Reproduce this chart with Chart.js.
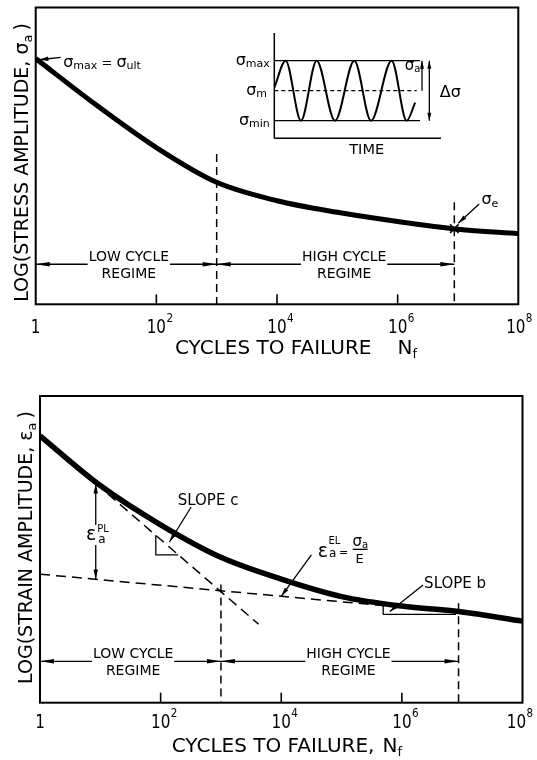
<!DOCTYPE html>
<html lang="en">
<head>
<meta charset="utf-8">
<title>Fatigue life: stress-life and strain-life curves</title>
<script src="https://cdn.jsdelivr.net/npm/chart.js@4.4.1/dist/chart.umd.min.js"></script>
<style>
  html, body { margin: 0; padding: 0; background: #fff; }
  #page { position: relative; width: 537px; height: 760px; overflow: hidden; background: #fff; }
  #page canvas { position: absolute; }
</style>
</head>
<body>
<div id="page">
  <canvas id="stressLife" width="537" height="370" style="left:0;top:0"></canvas>
  <canvas id="strainLife" width="537" height="380" style="left:0;top:380px"></canvas>
  <canvas id="cycleInset" width="280" height="150" style="left:200px;top:20px"></canvas>
</div>
<script>
// ---- data (x: cycles to failure, y: log amplitude in arbitrary units 0..100) ----
const N_DECADES = [1, 1e1, 1e2, 1e3, 1e4, 1e5, 1e6, 1e7, 1e8];
const STRESS_AMPLITUDE = [82.8, 67.2, 52.8, 41.1, 34.9, 31.0, 27.9, 25.3, 23.8];
const STRAIN_AMPLITUDE = [87.0, 70.8, 58.0, 47.4, 40.3, 34.6, 31.5, 29.6, 26.6];
const ELASTIC_N = [1, 1e7];
const ELASTIC_STRAIN = [41.9, 29.3];
const PLASTIC_N = [8.4, 4200];
const PLASTIC_STRAIN = [71.5, 25.6];
const REGIME_LIMITS = [1, 1e3, 8.7e6];
const REGIME_LABELS = [['LOW CYCLE', 'REGIME'], ['HIGH CYCLE', 'REGIME']];
const REGIME_LABEL_N = [35, 1.3e5];
const REGIME_ARROW_LEVEL = 13.5;
const STRESS_BOUNDARY_TOP = [50.6, 34.4];
const STRAIN_BOUNDARY_TOP = [38.5, 32.4];
const ENDURANCE_N = [8.7e6];
const ENDURANCE_STRESS = [25.5];
const SLOPE_C_N = [83.2, 83.2, 195];
const SLOPE_C_STRAIN = [54.5, 48.2, 48.2];
const SLOPE_B_N = [4.9e5, 4.9e5, 7.9e6];
const SLOPE_B_STRAIN = [31.6, 28.8, 28.8];
const PLASTIC_RANGE_N = 8.4;
const PLASTIC_RANGE = [71.5, 40.2];
const TICK_VALUES = [1, 1e2, 1e4, 1e6, 1e8];
const TICK_BASES = ['1', '10', '10', '10', '10'];
const TICK_POWERS = ['', '2', '4', '6', '8'];

// constant-amplitude loading history (inset)
const WAVE_TIME = [0, 6.8, 16, 25.4, 36.4, 48, 58, 70.4, 79.4, 84.5];
const WAVE_STRESS = [0.1, 1, -1, 1, -1, 1, -1, 1, -1, -0.4];
const LEVEL_NAMES = ['max', 'm', 'min'];
const LEVEL_STRESS = [1, 0, -1];
const LEVEL_END_TIME = [87.4, 85.4, 87.4];

// ---- drawing helpers ----
const FAMILY = '"DejaVu Sans", "Liberation Sans", Arial, sans-serif';
const INK = '#000';
const font = s => `${s}px ${FAMILY}`;
const pts = (xs, ys) => xs.map((x, i) => ({ x, y: ys[i] }));

function seg(ctx, x1, y1, x2, y2, w) {
  ctx.lineWidth = w || 1.3;
  ctx.beginPath(); ctx.moveTo(x1, y1); ctx.lineTo(x2, y2); ctx.stroke();
}
function head(ctx, fx, fy, tx, ty, len, hw) {
  const a = Math.atan2(ty - fy, tx - fx), c = Math.cos(a), s = Math.sin(a);
  const bx = tx - len * c, by = ty - len * s;
  ctx.beginPath();
  ctx.moveTo(tx, ty);
  ctx.lineTo(bx + hw * s, by - hw * c);
  ctx.lineTo(bx - hw * s, by + hw * c);
  ctx.closePath(); ctx.fill();
}
function arrow(ctx, x1, y1, x2, y2, len = 9, hw = 2.2, both = false) {
  seg(ctx, x1, y1, x2, y2, 1.3);
  head(ctx, x1, y1, x2, y2, len, hw);
  if (both) head(ctx, x2, y2, x1, y1, len, hw);
}
// text made of runs with their own size / baseline shift
function drawRich(ctx, parts, x, y, align) {
  let w = 0;
  parts.forEach(p => { ctx.font = font(p.s); w += (p.pre || 0) + ctx.measureText(p.t).width; });
  let cx = align === 'center' ? x - w / 2 : align === 'right' ? x - w : x;
  ctx.textAlign = 'left'; ctx.textBaseline = 'alphabetic';
  parts.forEach(p => {
    ctx.font = font(p.s);
    cx += (p.pre || 0);
    ctx.fillText(p.t, cx, y + (p.dy || 0));
    cx += ctx.measureText(p.t).width;
  });
  return w;
}
// frame, inward ticks and "10^n" labels; the last label is nudged inside the page
function frameAndTicks(ctx, a, xs, labelBaseline, lastShift) {
  ctx.lineWidth = 2;
  ctx.strokeRect(a.left, a.top, a.right - a.left, a.bottom - a.top);
  TICK_VALUES.forEach((v, i) => {
    const px = xs.getPixelForValue(v);
    const last = i === TICK_VALUES.length - 1;
    if (i > 0 && !last) seg(ctx, px, a.bottom, px, a.bottom - 10, 1.6);
    ctx.save();
    ctx.translate(px + (last ? lastShift : 0), labelBaseline);
    ctx.scale(0.8, 1);
    ctx.font = font(19); ctx.textAlign = 'center'; ctx.textBaseline = 'alphabetic';
    ctx.fillText(TICK_BASES[i], 0, 0);
    if (TICK_POWERS[i]) {
      const w = ctx.measureText(TICK_BASES[i]).width;
      ctx.font = font(13); ctx.textAlign = 'left';
      ctx.fillText(TICK_POWERS[i], w / 2 + 0.5, -11);
    }
    ctx.restore();
  });
}
function regimeArrows(ctx, xs, ys) {
  const y = ys.getPixelForValue(REGIME_ARROW_LEVEL);
  REGIME_LABELS.forEach((lines, i) => {
    const x0 = xs.getPixelForValue(REGIME_LIMITS[i]);
    const x1 = xs.getPixelForValue(REGIME_LIMITS[i + 1]);
    const cx = xs.getPixelForValue(REGIME_LABEL_N[i]);
    ctx.font = font(14);
    const w = Math.max(...lines.map(l => ctx.measureText(l).width));
    seg(ctx, x0, y, cx - w / 2 - 1, y, 1.3);
    seg(ctx, cx + w / 2 + 1, y, x1, y, 1.3);
    head(ctx, x0 + 14, y, x0, y, 14, 2.3);
    head(ctx, x1 - 14, y, x1, y, 14, 2.3);
    ctx.textAlign = 'center'; ctx.textBaseline = 'alphabetic';
    ctx.fillText(lines[0], cx, y - 3);
    ctx.fillText(lines[1], cx, y + 13.5);
  });
}
function yTitle(ctx, cx, cy, parts) {
  ctx.save();
  ctx.translate(cx, cy);
  ctx.rotate(-Math.PI / 2);
  drawRich(ctx, parts, 0, 0.365 * 19, 'center');
  ctx.restore();
}
function chartOptions(padding, xType, xMin, xMax, yMin, yMax) {
  return {
    responsive: false, animation: false, devicePixelRatio: 1, events: [],
    layout: { padding },
    plugins: { legend: { display: false }, tooltip: { enabled: false } },
    elements: { point: { radius: 0 }, line: { borderColor: INK, borderCapStyle: 'butt', borderJoinStyle: 'round' } },
    scales: {
      x: { type: xType, min: xMin, max: xMax, display: false },
      y: { type: 'linear', min: yMin, max: yMax, display: false }
    }
  };
}
const dashed = (data, dash) => ({ data, borderColor: INK, borderWidth: 1.5, borderDash: dash, pointRadius: 0, tension: 0 });

// ---- stress-life (S-N) chart ----
const stressDecor = {
  id: 'stressDecor',
  afterDatasetsDraw(chart) {
    const { ctx, chartArea: a, scales: { x: xs, y: ys } } = chart;
    const P = (n, v) => [xs.getPixelForValue(n), ys.getPixelForValue(v)];
    ctx.save();
    ctx.strokeStyle = INK; ctx.fillStyle = INK;
    frameAndTicks(ctx, a, xs, a.bottom + 28.5, -2.5);
    regimeArrows(ctx, xs, ys);

    drawRich(ctx, [{ t: 'CYCLES TO FAILURE', s: 20 }, { t: 'N', s: 20, pre: 26 }, { t: 'f', s: 13, dy: 4 }], 175, 354.3, 'left');
    yTitle(ctx, 21, 162.5, [{ t: 'LOG(STRESS AMPLITUDE, σ', s: 19 }, { t: 'a', s: 13, dy: 4 }, { t: ')', s: 19, pre: 4 }]);

    // ultimate strength at a single cycle
    const [u1x, u1y] = P(2.6, 83.2), [u2x, u2y] = P(1.15, 82.4);
    arrow(ctx, u1x, u1y, u2x, u2y, 9, 2.2);
    const [ux, uy] = P(2.85, 80.1);
    drawRich(ctx, [{ t: 'σ', s: 16 }, { t: 'max', s: 11, dy: 2 }, { t: ' = ', s: 13 }, { t: 'σ', s: 16 }, { t: 'ult', s: 11, dy: 2 }], ux, uy, 'left');

    // endurance limit
    const [e1x, e1y] = P(2.24e7, 33.8), [e2x, e2y] = P(1.01e7, 27.3);
    arrow(ctx, e1x, e1y, e2x, e2y, 9, 2.2);
    const [ex, ey] = P(2.45e7, 33.76);
    drawRich(ctx, [{ t: 'σ', s: 16 }, { t: 'e', s: 11, dy: 2.5 }], ex, ey, 'left');
    ctx.restore();
  }
};

new Chart(document.getElementById('stressLife'), {
  type: 'line',
  data: {
    datasets: [
      { label: 'Stress amplitude', data: pts(N_DECADES, STRESS_AMPLITUDE), borderColor: INK, borderWidth: 5, cubicInterpolationMode: 'monotone', pointRadius: 0 },
      dashed(pts([REGIME_LIMITS[1], REGIME_LIMITS[1]], [STRESS_BOUNDARY_TOP[0], 0]), [8, 5]),
      dashed(pts([REGIME_LIMITS[2], REGIME_LIMITS[2]], [STRESS_BOUNDARY_TOP[1], 0]), [8, 5]),
      { label: 'Endurance limit', data: pts(ENDURANCE_N, ENDURANCE_STRESS), showLine: false, pointStyle: 'crossRot', pointRadius: 6, pointBorderWidth: 1.5, pointBorderColor: INK }
    ]
  },
  options: chartOptions({ left: 35.7, right: 18.7, top: 5.7, bottom: 65.7 }, 'logarithmic', 1, 1e8, 0, 100),
  plugins: [stressDecor]
});

// ---- loading history inset ----
const insetDecor = {
  id: 'insetDecor',
  afterDatasetsDraw(chart) {
    const { ctx, chartArea: a, scales: { x: xs, y: ys } } = chart;
    ctx.save();
    ctx.strokeStyle = INK; ctx.fillStyle = INK;
    seg(ctx, a.left, a.top, a.left, a.bottom, 1.5);
    seg(ctx, a.left, a.bottom, a.right, a.bottom, 1.5);

    const rightEdge = [a.left - 4.5, a.left - 7.3, a.left - 4.5];
    LEVEL_STRESS.forEach((v, i) => {
      const y = ys.getPixelForValue(v);
      drawRich(ctx, [{ t: 'σ', s: 16 }, { t: LEVEL_NAMES[i], s: 11, dy: 2 }], rightEdge[i], y + 4.4, 'right');
    });

    const yMax = ys.getPixelForValue(1), yMid = ys.getPixelForValue(0), yMin = ys.getPixelForValue(-1);
    const xa = xs.getPixelForValue(88.6), xd = xs.getPixelForValue(93);
    arrow(ctx, xa, yMid, xa, yMax, 8, 2);
    arrow(ctx, xd, yMin, xd, yMax, 8, 2, true);
    drawRich(ctx, [{ t: 'σ', s: 15 }, { t: 'a', s: 10, dy: 2.5 }], xs.getPixelForValue(78.2), yMax + 9.3, 'left');
    drawRich(ctx, [{ t: 'Δσ', s: 16 }], xd + 10.5, yMid + 6, 'left');

    ctx.font = font(14.5); ctx.textAlign = 'center'; ctx.textBaseline = 'alphabetic';
    ctx.fillText('TIME', xs.getPixelForValue(55.4), a.bottom + 15.3);
    ctx.restore();
  }
};

new Chart(document.getElementById('cycleInset'), {
  type: 'line',
  data: {
    datasets: [
      { label: 'Stress history', data: pts(WAVE_TIME, WAVE_STRESS), borderColor: INK, borderWidth: 2, cubicInterpolationMode: 'monotone', pointRadius: 0 },
      ...LEVEL_STRESS.map((v, i) => ({
        label: 'σ' + LEVEL_NAMES[i], data: pts([0, LEVEL_END_TIME[i]], [v, v]),
        borderColor: INK, borderWidth: 1.3, borderDash: i === 1 ? [4, 3] : [], pointRadius: 0, tension: 0
      }))
    ]
  },
  options: chartOptions({ left: 74.3, right: 39, top: 13, bottom: 31.7 }, 'linear', 0, 100, -1.587, 1.923),
  plugins: [insetDecor]
});

// ---- strain-life chart ----
const strainDecor = {
  id: 'strainDecor',
  afterDatasetsDraw(chart) {
    const { ctx, chartArea: a, scales: { x: xs, y: ys } } = chart;
    const P = (n, v) => [xs.getPixelForValue(n), ys.getPixelForValue(v)];
    ctx.save();
    ctx.strokeStyle = INK; ctx.fillStyle = INK;
    frameAndTicks(ctx, a, xs, a.bottom + 25.6, -6);
    regimeArrows(ctx, xs, ys);

    drawRich(ctx, [{ t: 'CYCLES TO FAILURE,', s: 20 }, { t: 'N', s: 20, pre: 8 }, { t: 'f', s: 13, dy: 4 }], 171.7, 371.7, 'left');
    yTitle(ctx, 25.5, 167.5, [{ t: 'LOG(STRAIN AMPLITUDE, ε', s: 19 }, { t: 'a', s: 13, dy: 4 }, { t: ')', s: 19, pre: 4 }]);

    // plastic strain amplitude between total curve and elastic line
    const ax = xs.getPixelForValue(PLASTIC_RANGE_N);
    const yTop = ys.getPixelForValue(PLASTIC_RANGE[0]), yBot = ys.getPixelForValue(PLASTIC_RANGE[1]);
    const yLab = ys.getPixelForValue(54.7);
    seg(ctx, ax, yTop, ax, yLab - 10, 1.3);
    seg(ctx, ax, yLab + 10, ax, yBot, 1.3);
    head(ctx, ax, yTop + 10, ax, yTop, 10, 2.2);
    head(ctx, ax, yBot - 10, ax, yBot, 10, 2.2);
    ctx.font = font(19); ctx.textAlign = 'right'; ctx.textBaseline = 'alphabetic';
    ctx.fillText('ε', ax + 0.5, yLab + 5.2);
    ctx.textAlign = 'left';
    ctx.font = font(10); ctx.fillText('PL', ax + 1.5, yLab - 3.4);
    ctx.font = font(12); ctx.fillText('a', ax + 2.5, yLab + 8.4);

    // slope c (plastic line)
    const [c1x, c1y] = P(321, 63.8), [c2x, c2y] = P(140, 52.4);
    arrow(ctx, c1x, c1y, c2x, c2y, 9, 2.2);
    const [cx, cy] = P(192, 64.3);
    drawRich(ctx, [{ t: 'SLOPE c', s: 15 }], cx, cy, 'left');

    // elastic strain amplitude label
    const [l1x, l1y] = P(3.16e4, 48.2), [l2x, l2y] = P(1.0e4, 34.7);
    arrow(ctx, l1x, l1y, l2x, l2y, 9, 2.2);
    const [ex, ey] = P(4.02e4, 47.6);
    ctx.textAlign = 'left'; ctx.textBaseline = 'alphabetic';
    ctx.font = font(19); ctx.fillText('ε', ex, ey);
    const ew = ctx.measureText('ε').width;
    ctx.font = font(10); ctx.fillText('EL', ex + ew + 0.5, ey - 13);
    ctx.font = font(12); ctx.fillText('a', ex + ew + 1, ey);
    ctx.font = font(11); ctx.textAlign = 'center'; ctx.fillText('=', ex + 26, ey - 1);
    drawRich(ctx, [{ t: 'σ', s: 15 }, { t: 'a', s: 10, dy: 2 }], ex + 42.5, ey - 10.5, 'center');
    seg(ctx, ex + 35, ey - 7.4, ex + 50, ey - 7.4, 1.3);
    ctx.font = font(13); ctx.textAlign = 'center'; ctx.fillText('E', ex + 42, ey + 6.3);

    // slope b (elastic line)
    const [b1x, b1y] = P(2.25e6, 38.4), [b2x, b2y] = P(6.3e5, 29.7);
    arrow(ctx, b1x, b1y, b2x, b2y, 9, 2.2);
    const [bx, by] = P(2.25e6, 37.3);
    drawRich(ctx, [{ t: 'SLOPE b', s: 15 }], bx + 1, by, 'left');
    ctx.restore();
  }
};

new Chart(document.getElementById('strainLife'), {
  type: 'line',
  data: {
    datasets: [
      { label: 'Total strain amplitude', data: pts(N_DECADES, STRAIN_AMPLITUDE), borderColor: INK, borderWidth: 5.5, cubicInterpolationMode: 'monotone', pointRadius: 0 },
      dashed(pts(ELASTIC_N, ELASTIC_STRAIN), [10, 6]),
      dashed(pts(PLASTIC_N, PLASTIC_STRAIN), [10, 6]),
      dashed(pts([REGIME_LIMITS[1], REGIME_LIMITS[1]], [STRAIN_BOUNDARY_TOP[0], 0]), [8, 5]),
      dashed(pts([REGIME_LIMITS[2], REGIME_LIMITS[2]], [STRAIN_BOUNDARY_TOP[1], 0]), [8, 5]),
      { label: 'Slope c', data: pts(SLOPE_C_N, SLOPE_C_STRAIN), borderColor: INK, borderWidth: 1.3, pointRadius: 0, tension: 0 },
      { label: 'Slope b', data: pts(SLOPE_B_N, SLOPE_B_STRAIN), borderColor: INK, borderWidth: 1.3, pointRadius: 0, tension: 0 }
    ]
  },
  options: chartOptions({ left: 40, right: 14.5, top: 16, bottom: 57.3 }, 'logarithmic', 1, 1e8, 0, 100),
  plugins: [strainDecor]
});
</script>
</body>
</html>
